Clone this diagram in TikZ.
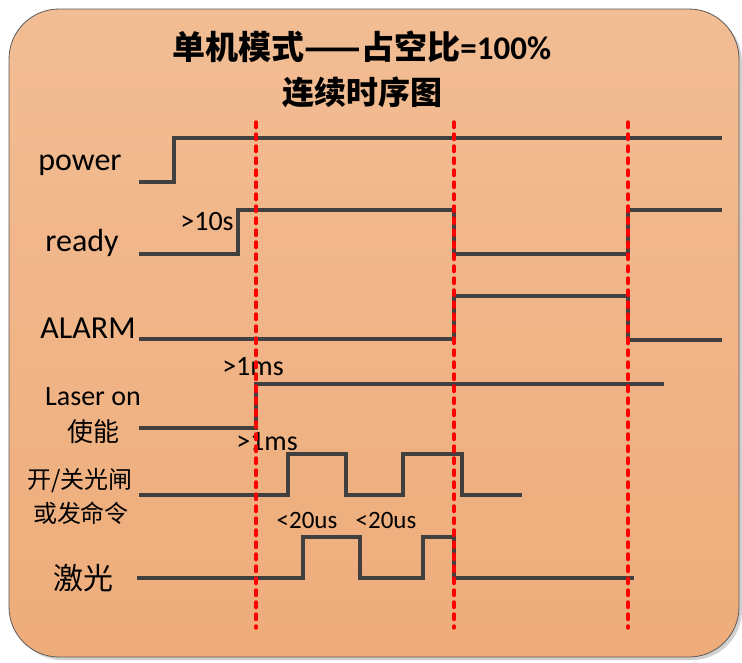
\documentclass[tikz,border=0pt]{standalone}
\usepackage{fontspec}
\setmainfont{Carlito}
\newfontfamily\cjk{Noto Sans CJK SC}
\usetikzlibrary{shadows}
\definecolor{panel top color}{HTML}{F2BD94}
\definecolor{panel bottom color}{HTML}{EEAC7A}
\definecolor{panel border color}{HTML}{5A5A5A}
\definecolor{signal color}{HTML}{404040}
\definecolor{event color}{HTML}{FF0000}
\tikzset{
    x={1pt},
    y={-1pt},
    panel/.style={
        draw=panel border color,
        line width={0.8pt},
        rounded corners={50pt},
        top color=panel top color,
        bottom color=panel bottom color,
        drop shadow={shadow xshift=3pt, shadow yshift=-3pt, fill=black!18, opacity=1},
    },
    title/.style={
        font={\fontsize{#1}{#1}\selectfont\bfseries},
        anchor=center,
        inner sep=0pt,
    },
    signal/.style={
        draw=signal color,
        line width={3.4pt},
    },
    event line/.style={
        draw=event color,
        line width={3.4pt},
        line cap=round,
        dash pattern=on 5.5pt off 6.5pt,
    },
    signal label/.style={
        font={\fontsize{#1}{#1}\selectfont},
        anchor=center,
        inner sep=0pt,
    },
    signal label/.default={32},
    cjk label/.style={
        font={\cjk\fontsize{#1}{#1}\selectfont},
        anchor=center,
        inner sep=0pt,
    },
    timing label/.style={
        font={\fontsize{#1}{#1}\selectfont},
        anchor=center,
        inner sep=0pt,
    },
    timing label/.default={28},
}

\begin{document}
\begin{tikzpicture}
\useasboundingbox (0,0) rectangle (742,662);
% background
\path[panel] (9,9) rectangle (739,657);
% title
\node[title={33}] (title) at (362,47) {{\cjk 单机模式——占空比}=100\%};
\node[title={32}] (subtitle) at (362,92) {\cjk 连续时序图};
% signal names
\node[signal label] (power) at (80,165) {power};
\node[signal label] (ready) at (82,243) {ready};
\node[signal label] (alarm) at (88,328) {ALARM};
\node[signal label={28}] (laser on) at (93,397) {Laser on};
\node[cjk label={26}] (enable) at (93,432) {使能};
\node[cjk label={24}] (shutter) at (80,481) {开/关光闸};
\node[cjk label={24}] (command) at (81,513) {或发命令};
\node[cjk label={30}] (laser) at (83,578) {激光};
% waveforms
\path[signal] (139,182) -| (174,138) -- (722,138);
\path[signal] (139,254) -| (238,210) -| (454,254) -| (628,210) -- (722,210);
\path[signal] (139,339) -| (454,296) -| (628,340) -- (722,340);
\path[signal] (139,428) -| (256,384) -- (664,384);
\path[signal] (139,495) -| (288,454) -| (346,495) -| (403,454) -| (462,495) -- (522,495);
\path[signal] (137,578) -| (303,537) -| (360,578) -| (423,537) -| (454,578) -- (634,578);
% delays
\node[timing label] (delay ready) at (207,222) {>10s};
\node[timing label] (delay enable) at (253,367) {>1ms};
\node[timing label] (delay shutter) at (267,442) {>1ms};
\node[timing label={25}] (rise laser) at (307,520) {<20us};
\node[timing label={25}] (fall laser) at (386,520) {<20us};
% events
\path[event line] (256,122) -- (256,628);
\path[event line] (454,122) -- (454,628);
\path[event line] (628,122) -- (628,628);
\end{tikzpicture}
\end{document}
